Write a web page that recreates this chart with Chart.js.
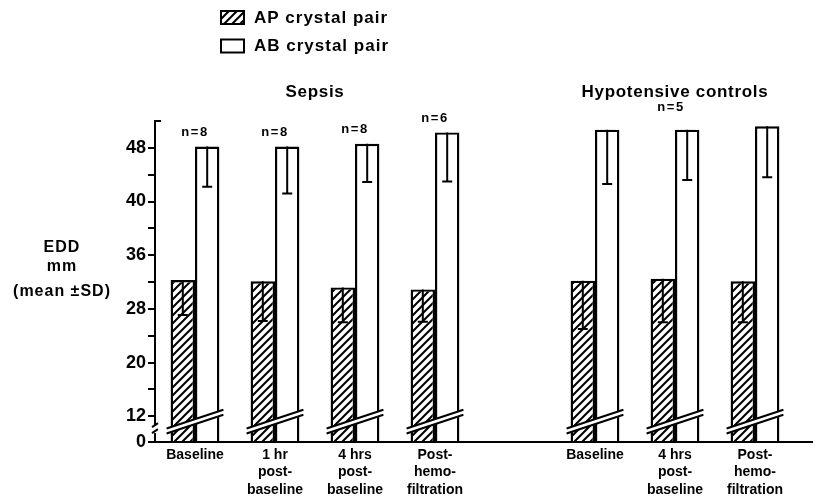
<!DOCTYPE html>
<html>
<head>
<meta charset="utf-8">
<title>EDD mean SD</title>
<script src="https://cdn.jsdelivr.net/npm/chart.js@4.4.1/dist/chart.umd.min.js"></script>
<style>
	html, body { margin: 0; padding: 0; background: #fff; }
	#wrapper { width: 816px; height: 498px; }
</style>
</head>
<body>
<div id="wrapper"><canvas id="eddChart"></canvas></div>
<script>
const categories = [
	['Baseline'],
	['1 hr', 'post-', 'baseline'],
	['4 hrs', 'post-', 'baseline'],
	['Post-', 'hemo-', 'filtration'],
	'',
	['Baseline'],
	['4 hrs', 'post-', 'baseline'],
	['Post-', 'hemo-', 'filtration']
];
const apMean = [32.3, 32.1, 31.2, 30.9, null, 32.2, 32.5, 32.1];
const apSD = [5.2, 5.9, 5.2, 4.8, null, 7.2, 6.5, 6.1];
const abMean = [48.2, 48.2, 48.6, 50.3, null, 50.7, 50.7, 51.2];
const abSD = [6.0, 7.0, 5.7, 7.3, null, 8.1, 7.5, 7.6];
const nLabels = ['n=8', 'n=8', 'n=8', 'n=6', '', '', '', ''];
const groupTitles = ['Sepsis', 'Hypotensive controls'];
const groupSubs = ['', 'n=5'];
const groupFirst = [0, 5];
const groupLast = [3, 7];
const yTicks = [0, 12, 20, 28, 36, 40, 48];

const FONT = "'Liberation Sans', Arial, sans-serif";

/* the printed axis is broken under 12, the other ticks sit at even steps */
const BREAK_SLOT = -0.48;
function tickSlot(i) {
	return i === 0 ? BREAK_SLOT : i - 1;
}
function toAxis(v) {
	if (v === null) return null;
	let i = 0;
	while (i < yTicks.length - 2 && v > yTicks[i + 1]) i++;
	const a = yTicks[i], b = yTicks[i + 1];
	return tickSlot(i) + (v - a) / (b - a) * (tickSlot(i + 1) - tickSlot(i));
}

function hatchPattern() {
	const s = 8;
	const c = document.createElement('canvas');
	c.width = s;
	c.height = s;
	const g = c.getContext('2d');
	g.fillStyle = '#fff';
	g.fillRect(0, 0, s, s);
	g.strokeStyle = '#000';
	g.lineWidth = 2;
	g.beginPath();
	g.moveTo(-1, s + 1); g.lineTo(s + 1, -1);
	g.moveTo(-1, 1); g.lineTo(1, -1);
	g.moveTo(s - 1, s + 1); g.lineTo(s + 1, s - 1);
	g.stroke();
	return g.createPattern(c, 'repeat');
}

const decor = {
	id: 'decor',
	afterDatasetsDraw(chart) {
		const ctx = chart.ctx;
		const y = chart.scales.y;
		const x = chart.scales.x;
		const area = chart.chartArea;
		const sds = [apSD, abSD];
		const means = [apMean, abMean];
		const apBars = chart.getDatasetMeta(0).data;
		const abBars = chart.getDatasetMeta(1).data;

		ctx.save();
		ctx.strokeStyle = '#000';
		ctx.lineWidth = 2;

		// error bars, only the lower half is printed
		for (let d = 0; d < 2; d++) {
			const bars = chart.getDatasetMeta(d).data;
			means[d].forEach(function(m, i) {
				if (m === null) return;
				const bx = bars[i].x;
				const low = y.getPixelForValue(toAxis(m - sds[d][i]));
				ctx.beginPath();
				ctx.moveTo(bx, bars[i].y);
				ctx.lineTo(bx, low);
				ctx.moveTo(bx - 5, low);
				ctx.lineTo(bx + 5, low);
				ctx.stroke();
			});
		}

		// break marks across each pair of bars
		const yc = y.getPixelForValue(-0.1);
		apMean.forEach(function(m, i) {
			if (m === null) return;
			const l = apBars[i].x - apBars[i].width / 2 - 4;
			const r = abBars[i].x + abBars[i].width / 2 + 4;
			const rise = (r - l) * 0.33 / 2;
			ctx.fillStyle = '#fff';
			ctx.beginPath();
			ctx.moveTo(l, yc + rise - 2.5);
			ctx.lineTo(r, yc - rise - 2.5);
			ctx.lineTo(r, yc - rise + 2.5);
			ctx.lineTo(l, yc + rise + 2.5);
			ctx.closePath();
			ctx.fill();
			ctx.beginPath();
			ctx.moveTo(l, yc + rise - 2.5);
			ctx.lineTo(r, yc - rise - 2.5);
			ctx.moveTo(l, yc + rise + 2.5);
			ctx.lineTo(r, yc - rise + 2.5);
			ctx.stroke();
		});

		// axis break and the top cap of the y axis
		const ax = area.left;
		const yb = y.getPixelForValue(BREAK_SLOT / 2);
		ctx.fillStyle = '#fff';
		ctx.fillRect(ax - 3, yb - 4, 6, 8);
		ctx.beginPath();
		ctx.moveTo(ax - 3, yb - 2);
		ctx.lineTo(ax + 3, yb - 6);
		ctx.moveTo(ax - 3, yb + 4);
		ctx.lineTo(ax + 3, yb);
		ctx.moveTo(ax, area.top);
		ctx.lineTo(ax + 6, area.top);
		ctx.moveTo(ax, area.bottom);
		ctx.lineTo(chart.width - 3, area.bottom);
		ctx.stroke();

		// n labels over the pairs
		ctx.fillStyle = '#000';
		ctx.textAlign = 'center';
		ctx.textBaseline = 'middle';
		ctx.letterSpacing = '1.5px';
		ctx.font = 'bold 13px ' + FONT;
		nLabels.forEach(function(t, i) {
			if (!t) return;
			ctx.fillText(t, (apBars[i].x + abBars[i].x) / 2, abBars[i].y - 14);
		});

		// group titles
		groupTitles.forEach(function(t, g) {
			const cx = (x.getPixelForValue(groupFirst[g]) + x.getPixelForValue(groupLast[g])) / 2;
			ctx.letterSpacing = '0.7px';
			ctx.font = 'bold 17px ' + FONT;
			ctx.fillText(t, cx, area.top - 29);
			if (groupSubs[g]) {
				ctx.letterSpacing = '1.5px';
				ctx.font = 'bold 13px ' + FONT;
				ctx.fillText(groupSubs[g], cx - 4, area.top - 14);
			}
		});

		// y axis title
		ctx.letterSpacing = '1px';
		ctx.font = 'bold 16px ' + FONT;
		ctx.fillText('EDD', 62, 248);
		ctx.fillText('mm', 62, 267);
		ctx.fillText('(mean \u00B1SD)', 62, 292);

		// legend
		const boxes = [chart.data.datasets[0], chart.data.datasets[1]];
		ctx.textAlign = 'left';
		ctx.font = 'bold 17px ' + FONT;
		boxes.forEach(function(ds, k) {
			const top = 11 + k * 28.5;
			ctx.fillStyle = ds.backgroundColor;
			ctx.fillRect(221, top, 23, 13);
			ctx.strokeRect(221, top, 23, 13);
			ctx.fillStyle = '#000';
			ctx.fillText(ds.label, 254, top + 7);
		});
		ctx.restore();
	}
};

const ctx = document.getElementById('eddChart').getContext('2d');

new Chart(ctx, {
	type: 'bar',
	data: {
		labels: categories,
		datasets: [{
			label: 'AP crystal pair',
			data: apMean.map(toAxis),
			backgroundColor: hatchPattern(),
			borderColor: '#000',
			borderWidth: 2.4,
			base: BREAK_SLOT,
			categoryPercentage: 0.61,
			barPercentage: 1.0
		}, {
			label: 'AB crystal pair',
			data: abMean.map(toAxis),
			backgroundColor: '#fff',
			borderColor: '#000',
			borderWidth: 2.4,
			base: BREAK_SLOT,
			categoryPercentage: 0.61,
			barPercentage: 1.0
		}]
	},
	options: {
		responsive: true,
		maintainAspectRatio: false,
		animation: false,
		layout: { padding: { left: 0, right: 21, top: 121, bottom: 0 } },
		plugins: {
			legend: { display: false },
			tooltip: { enabled: false }
		},
		scales: {
			x: {
				type: 'category',
				offset: true,
				grid: { display: false, drawTicks: false },
				border: { display: false },
				ticks: {
					color: '#000',
					font: { family: FONT, size: 14, weight: 'bold', lineHeight: 1.25 },
					maxRotation: 0,
					autoSkip: false,
					padding: 4
				},
				afterFit: function(scale) { scale.height = 56; }
			},
			y: {
				type: 'linear',
				min: BREAK_SLOT,
				max: 5.5,
				afterBuildTicks: function(scale) {
					const t = [];
					yTicks.forEach(function(v, i) { t.push({ value: tickSlot(i) }); });
					for (let k = 0; k < 5; k++) t.push({ value: k + 0.5 });
					scale.ticks = t;
				},
				grid: {
					drawOnChartArea: false,
					color: '#000',
					lineWidth: 2,
					tickLength: 7
				},
				border: { display: true, color: '#000', width: 2 },
				ticks: {
					color: '#000',
					autoSkip: false,
					padding: 2,
					font: { family: FONT, size: 18, weight: 'bold' },
					callback: function(value) {
						const i = yTicks.findIndex(function(v, k) { return Math.abs(tickSlot(k) - value) < 1e-6; });
						return i < 0 ? '' : yTicks[i];
					}
				},
				afterFit: function(scale) { scale.width = 155; }
			}
		}
	},
	plugins: [decor]
});
</script>
</body>
</html>
